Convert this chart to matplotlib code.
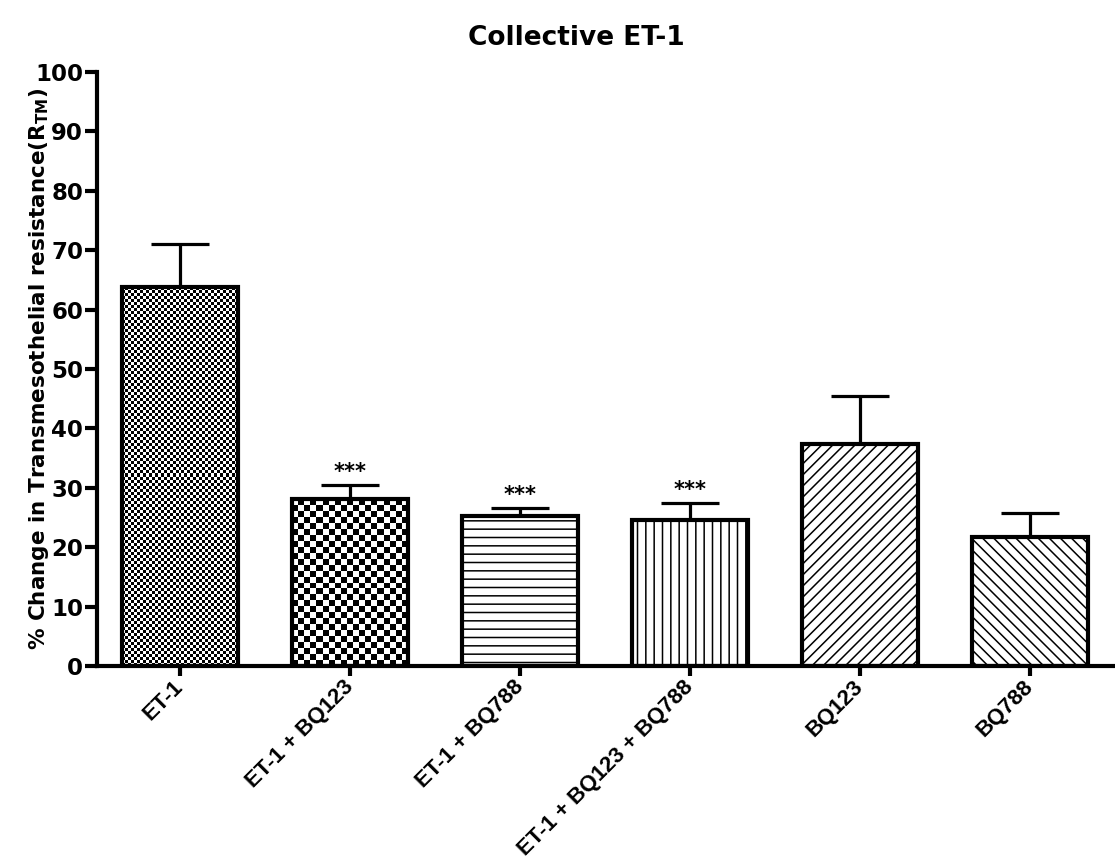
import numpy as np
import matplotlib
matplotlib.use('Agg')
import matplotlib.pyplot as plt

plt.rcParams['font.family'] = ['DejaVu Sans']
plt.rcParams['font.weight'] = 'bold'
plt.rcParams['mathtext.fontset'] = 'custom'
plt.rcParams['mathtext.bf'] = 'DejaVu Sans:bold'
plt.rcParams['mathtext.rm'] = 'DejaVu Sans:bold'
plt.rcParams['hatch.linewidth'] = 1.1

groups = ['ET-1', 'ET-1 + BQ123', 'ET-1 + BQ788', 'ET-1 + BQ123 + BQ788', 'BQ123', 'BQ788']
means = [63.8, 28.1, 25.2, 24.5, 37.3, 21.7]
sem = [7.3, 2.4, 1.4, 3.0, 8.1, 4.0]
stars = ['', '***', '***', '***', '', '']
# fill style per bar: ('checker', cell px) or a hatch string
fills = [('checker', 3), ('checker', 6), '--', '||', '///', '\\\\\\']

fig = plt.figure(figsize=(11.15, 8.65), dpi=100)
ax = fig.add_axes([97/1115, 1-666/865, 1-97/1115, (666-72)/865])

x = np.arange(len(groups))
w = 0.68
ax.set_xlim(-0.49, 5.5)
ax.set_ylim(0, 100)

# error bars sit under the bars, so only the upper half shows
ax.errorbar(x, means, yerr=[np.zeros(len(sem)), sem], fmt='none', ecolor='black',
            elinewidth=2.3, capsize=21, capthick=2.3, zorder=1)

faces = ax.bar(x, means, w, color='white', edgecolor='none', zorder=2)
for bar, f in zip(faces, fills):
    if isinstance(f, tuple):
        cell = f[1]
        x0, y0 = bar.get_x(), 0
        x1, y1 = x0 + bar.get_width(), bar.get_height()
        p0 = ax.transData.transform((x0, y0))
        p1 = ax.transData.transform((x1, y1))
        nx = int(round((p1[0] - p0[0]) / cell))
        ny = int(round((p1[1] - p0[1]) / cell))
        jj, ii = np.indices((ny, nx))
        img = (ii + jj) % 2
        im = ax.imshow(img, cmap='gray', extent=(x0, x1, y0, y1), aspect='auto',
                       interpolation='nearest', zorder=2.5, origin='lower')
        im.set_clip_path(bar)
    else:
        bar.set_hatch(f)
        bar.set_edgecolor('black')
        bar.set_linewidth(0)
ax.bar(x, means, w, fill=False, edgecolor='black', linewidth=3, zorder=3)

ax.set_xlim(-0.49, 5.5)
ax.set_ylim(0, 100)

for xi, m, s, st in zip(x, means, sem, stars):
    if st:
        ax.text(xi, m + s + 0.5, st, ha='center', va='bottom', fontsize=15, fontweight='bold')

for side in ['top', 'right']:
    ax.spines[side].set_visible(False)
for side in ['left', 'bottom']:
    ax.spines[side].set_linewidth(3)

ax.set_yticks(np.arange(0, 101, 10))
ax.tick_params(axis='y', length=9, width=3, labelsize=16.5, pad=1)
ax.tick_params(axis='x', length=7, width=3, pad=6)
ax.set_xticks(x)
ax.set_xticklabels(groups, rotation=45, ha='right', va='center', rotation_mode='anchor',
                   family=['Liberation Sans', 'DejaVu Sans'], fontsize=16, fontweight='bold')
for lab in ax.get_yticklabels():
    lab.set_fontweight('bold')

ax.set_ylabel(r'% Change in Transmesothelial resistance(R$_{\mathbf{TM}}$)',
              fontsize=15.5, fontweight='bold')
ax.yaxis.set_label_coords(-0.045, 0.5)

fig.text(0.517, 0.956, 'Collective ET-1', ha='center', va='center',
         fontsize=19, fontweight='bold')

fig.savefig('out.png', dpi=100)
